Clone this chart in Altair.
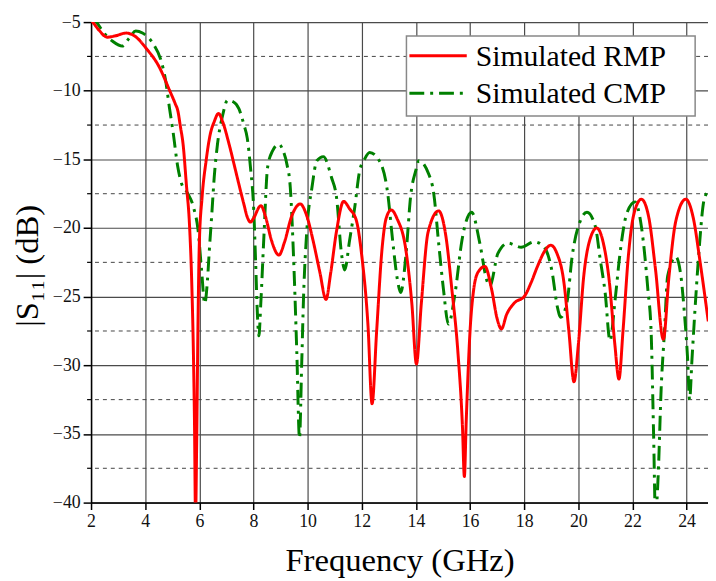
import altair as alt
import pandas as pd

# ---- data ----
freq_rmp = [2.0, 2.1, 2.3, 2.6, 2.9, 3.3, 3.6, 4.06, 4.5, 4.9, 5.1, 5.21, 5.3, 5.4, 5.52, 5.64,
            5.72, 5.78, 5.82, 5.86, 5.9, 5.95, 6.0, 6.1, 6.25, 6.4, 6.55, 6.71, 6.85, 7.1, 7.3,
            7.46, 7.65, 7.77, 7.89, 8.0, 8.27, 8.45, 8.65, 8.94, 9.15, 9.4, 9.73, 9.95, 10.2,
            10.45, 10.68, 10.85, 11.07, 11.33, 11.55, 11.8, 12.0, 12.23, 12.38, 12.55, 12.75,
            12.9, 13.09, 13.3, 13.63, 13.85, 14.02, 14.2, 14.45, 14.84, 15.1, 15.33, 15.55,
            15.72, 15.79, 15.86, 16.0, 16.12, 16.3, 16.55, 16.8, 17.0, 17.16, 17.35, 17.64,
            18.01, 18.25, 18.49, 18.75, 18.98, 19.2, 19.47, 19.65, 19.84, 20.0, 20.2, 20.45,
            20.68, 20.9, 21.15, 21.35, 21.5, 21.65, 21.85, 22.05, 22.33, 22.6, 22.85, 23.14,
            23.35, 23.6, 23.97, 24.25, 24.5, 24.8]
s11_rmp = [-4.85, -5.1, -5.6, -6.1, -6.0, -5.8, -6.0, -6.97, -8.2, -9.97, -10.9, -11.5, -12.6,
           -13.9, -16.8, -19.9, -24.0, -29.0, -34.0, -41.0, -36.0, -27.0, -21.1, -17.8, -15.1,
           -13.2, -12.25, -11.65, -12.2, -13.9, -15.5, -16.8, -18.3, -19.2, -19.57, -19.3,
           -18.37, -19.2, -20.8, -21.97, -21.0, -19.2, -18.25, -19.0, -20.9, -23.2, -25.2,
           -23.3, -20.2, -18.06, -18.6, -19.45, -22.0, -27.1, -32.8, -27.5, -21.5, -19.3,
           -18.68, -19.3, -21.6, -25.5, -29.9, -25.5, -20.3, -18.75, -20.5, -24.5, -29.0,
           -34.5, -38.1, -34.0, -27.5, -24.7, -23.2, -22.8, -24.5, -26.6, -27.35, -26.3,
           -25.45, -24.97, -24.0, -22.8, -21.7, -21.25, -21.8, -24.0, -27.5, -31.2, -28.5,
           -23.5, -20.7, -20.0, -20.9, -24.0, -28.5, -31.0, -27.5, -22.0, -19.0, -17.9, -19.2,
           -23.0, -28.1, -23.5, -19.5, -17.9, -19.3, -22.5, -26.8]

freq_cmp = [2.0, 2.17, 2.5, 2.8, 3.15, 3.4, 3.65, 3.9, 4.3, 4.6, 4.75, 4.9, 5.03, 5.2, 5.35,
            5.55, 5.8, 5.95, 6.08, 6.2, 6.3, 6.37, 6.46, 6.55, 6.67, 6.86, 7.04, 7.25, 7.46,
            7.65, 7.77, 7.89, 8.01, 8.08, 8.15, 8.2, 8.27, 8.39, 8.52, 8.7, 8.94, 9.1, 9.24,
            9.36, 9.49, 9.6, 9.7, 9.78, 9.85, 9.97, 10.16, 10.34, 10.58, 10.88, 11.07, 11.25,
            11.37, 11.55, 11.74, 11.92, 12.1, 12.29, 12.65, 12.96, 13.14, 13.32, 13.44, 13.63,
            13.81, 13.99, 14.11, 14.48, 14.66, 14.84, 15.02, 15.2, 15.45, 15.7, 16.06, 16.36,
            16.61, 16.73, 17.03, 17.4, 17.89, 18.37, 18.74, 19.04, 19.22, 19.35, 19.59, 19.77,
            20.08, 20.32, 20.63, 20.81, 20.99, 21.17, 21.36, 21.54, 21.78, 22.09, 22.33, 22.57,
            22.69, 22.78, 22.85, 22.95, 23.06, 23.18, 23.3, 23.6, 23.79, 23.91, 24.03, 24.11,
            24.2, 24.34, 24.46, 24.64, 24.8]
s11_cmp = [-4.7, -4.95, -5.85, -6.4, -6.75, -6.2, -5.65, -5.8, -6.6, -7.9, -9.2, -11.3, -13.0,
           -15.5, -16.8, -17.4, -18.6, -20.1, -23.0, -25.5, -23.8, -21.6, -19.0, -16.3, -13.9,
           -11.8, -10.7, -10.8, -11.3, -12.5, -13.45, -15.6, -18.7, -22.5, -26.5, -27.85, -25.5,
           -20.4, -15.6, -14.4, -13.9, -14.4, -15.4, -17.05, -22.6, -29.0, -35.3, -30.0, -25.0,
           -20.2, -17.05, -15.1, -14.8, -16.3, -17.8, -21.85, -23.05, -20.9, -18.5, -15.85,
           -15.0, -14.5, -15.1, -17.5, -20.9, -23.8, -24.7, -22.0, -17.6, -15.85, -15.1, -16.1,
           -17.5, -21.1, -24.5, -27.0, -24.7, -20.9, -18.85, -21.1, -23.75, -24.25, -21.85,
           -21.1, -21.4, -21.0, -21.4, -23.3, -25.7, -26.5, -25.3, -22.1, -19.45, -18.85, -19.9,
           -22.3, -24.7, -28.2, -25.2, -21.85, -19.0, -18.1, -19.9, -24.5, -27.6, -35.0, -41.0,
           -38.0, -31.7, -27.6, -23.5, -22.1, -23.5, -26.0, -29.3, -32.5, -29.5, -25.0, -21.6,
           -18.0, -17.3]

series_names = ["Simulated RMP", "Simulated CMP"]
series_colors = ["#ff0000", "#008000"]
series_dash = [[1, 0], [15, 6, 3, 6]]

x_ticks = [2, 4, 6, 8, 10, 12, 14, 16, 18, 20, 22, 24]
y_ticks = [-40, -35, -30, -25, -20, -15, -10, -5]
y_minor = [-37.5, -32.5, -27.5, -22.5, -17.5, -12.5, -7.5]

# ---- tables ----
df = pd.concat([
    pd.DataFrame({"f": freq_cmp, "s": s11_cmp, "series": series_names[1]}),
    pd.DataFrame({"f": freq_rmp, "s": s11_rmp, "series": series_names[0]}),
], ignore_index=True)
minor_df = pd.DataFrame({"v": y_minor})
legend_df = pd.DataFrame({"series": series_names, "row": [0, 1]})

FONT = "Liberation Serif"
GRID = "#4a4a4a"
xscale = alt.Scale(domain=[2, 24.79], nice=False, zero=False)
yscale = alt.Scale(domain=[-40, -5], nice=False, zero=False)
cscale = alt.Scale(domain=series_names, range=series_colors)
dscale = alt.Scale(domain=series_names, range=series_dash)

x_axis = alt.Axis(values=x_ticks, grid=True, gridColor=GRID, gridWidth=1.2,
                  domainColor="#000000", domainWidth=1.5, tickColor="#000000", tickSize=7,
                  tickWidth=1.5, labelFont=FONT, labelFontSize=18, labelColor="#111111",
                  labelPadding=3, labelFlush=False, title="Frequency (GHz)", titleFont=FONT,
                  titleFontSize=33, titleFontWeight="normal", titleColor="#000000",
                  titleBaseline="alphabetic", titleY=69)
y_axis = alt.Axis(values=y_ticks, grid=True, gridColor=GRID, gridWidth=1.2,
                  domainColor="#000000", domainWidth=1.5, tickColor="#000000", tickSize=8,
                  tickWidth=1.5, labelFont=FONT, labelFontSize=18, labelColor="#111111",
                  labelPadding=3, labelFlush=False, title="|S\u2081\u2081| (dB)", titleFont=FONT,
                  titleFontSize=33, titleFontWeight="normal", titleColor="#000000",
                  titleAngle=270, titleBaseline="alphabetic", titleAlign="center",
                  titleX=-54, titleY=246)

lines = alt.Chart(df).mark_line(clip=True, interpolate="monotone", strokeWidth=3).encode(
    x=alt.X("f:Q", scale=xscale, axis=x_axis),
    y=alt.Y("s:Q", scale=yscale, axis=y_axis),
    color=alt.Color("series:N", scale=cscale, legend=None),
    strokeDash=alt.StrokeDash("series:N", scale=dscale, legend=None),
)

minor_grid = alt.Chart(minor_df).mark_rule(color="#444444", strokeWidth=1, strokeDash=[4, 4]).encode(
    y=alt.Y("v:Q", scale=yscale, axis=y_axis)
)
minor_ticks = alt.Chart(minor_df).mark_rule(color="#000000", strokeWidth=1.2).encode(
    y=alt.Y("v:Q", scale=yscale, axis=y_axis),
    x=alt.value(-4), x2=alt.value(0)
)

# legend (box, line samples, labels)
row_y = [34, 72]
leg_box = alt.Chart(legend_df).transform_filter("datum.row == 0").mark_rect(
    fill="#ffffff", stroke="#888888", strokeWidth=1.5
).encode(x=alt.value(319), x2=alt.value(611), y=alt.value(14), y2=alt.value(95))

leg_layers = [leg_box]
for r in (0, 1):
    leg_layers.append(
        alt.Chart(legend_df).transform_filter(f"datum.row == {r}").mark_rule(strokeWidth=3).encode(
            x=alt.value(322), x2=alt.value(380), y=alt.value(row_y[r]),
            color=alt.Color("series:N", scale=cscale, legend=None),
            strokeDash=alt.StrokeDash("series:N", scale=dscale, legend=None),
        )
    )
    leg_layers.append(
        alt.Chart(legend_df).transform_filter(f"datum.row == {r}").mark_text(
            align="left", baseline="middle", font=FONT, fontSize=30, color="#000000", dy=1
        ).encode(x=alt.value(389), y=alt.value(row_y[r]), text="series:N")
    )

chart = alt.layer(minor_grid, minor_ticks, lines, *leg_layers).properties(
    width=624, height=486,
    autosize=alt.AutoSizeParams(type="none"),
    padding={"left": 84, "top": 11, "right": 0, "bottom": 73},
).configure_view(stroke="transparent")

chart.save("out.html", embed_options={"renderer": "svg", "actions": False})
